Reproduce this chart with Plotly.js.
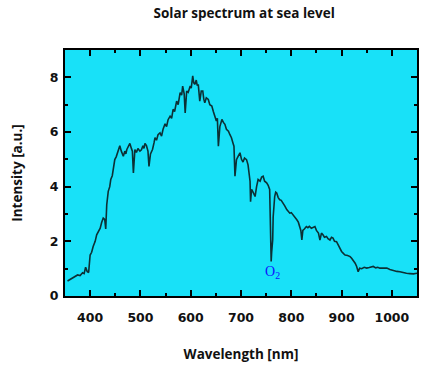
<!DOCTYPE html>
<html><head><meta charset="utf-8">
<script src="https://cdn.plot.ly/plotly-3.0.1.min.js"></script>
<style>html,body{margin:0;padding:0;background:#fff}#chart{width:440px;height:370px}</style>
</head><body><div id="chart"></div>
<script>
const wavelength = [355,360,365,370,375,380,385,388,391,394,397,400,403,406,410,413,417,420,423,426,429,431,433,436,439,441,444,446,449,452,455,457,459,462,464,466,469,471,473,476,479,482,484,486,489,492,495,499,502,505,507,509,512,515,517,520,524,527,529,532,535,539,542,545,549,552,555,559,562,565,568,572,575,579,582,584,587,589,592,595,599,601,604,606,608,611,613,615,618,621,624,626,628,631,635,638,642,645,648,651,653,655,658,662,665,668,671,675,678,681,684,686,688,690,691,694,698,701,704,707,711,714,716,718,719,721,724,728,731,734,738,741,744,747,751,754,757,759,760,761,763,764,766,767,769,771,774,777,780,784,787,791,794,797,800,804,807,811,814,816,819,821,823,826,830,833,836,840,843,847,850,854,857,860,863,866,870,873,877,880,883,886,890,893,897,900,904,907,912,917,920,923,927,930,933,936,940,945,950,955,960,963,968,972,976,982,990,996,1003,1010,1016,1022,1029,1036,1043,1050];
const intensity = [0.55,0.6,0.65,0.7,0.77,0.75,0.85,0.82,1.05,0.9,0.86,1.5,1.6,1.81,2.0,2.24,2.35,2.48,2.7,2.85,2.8,2.45,3.34,3.83,4.0,4.26,4.4,4.62,4.99,5.1,5.3,5.45,5.5,5.3,5.15,5.11,5.3,5.2,5.36,5.45,5.58,5.4,5.3,4.5,5.36,5.25,5.4,5.3,5.35,5.5,5.4,5.58,5.5,5.3,4.74,5.2,5.36,5.6,5.79,5.7,5.9,5.97,5.85,6.1,6.3,6.2,6.45,6.58,6.5,6.83,6.75,7.13,7.0,7.44,7.35,7.68,7.4,6.7,7.5,7.45,7.68,7.6,8.05,7.8,7.74,7.9,7.7,7.74,7.13,7.5,7.5,7.2,7.07,7.25,7.19,7.0,6.95,6.75,6.52,6.4,6.5,5.48,6.2,6.46,6.35,6.28,6.1,6.03,5.9,5.79,5.6,5.48,4.38,4.8,4.99,5.1,5.24,5.0,4.9,5.05,4.99,4.8,4.5,4.2,3.45,3.9,3.8,3.64,4.0,4.26,4.2,4.35,4.38,4.2,4.14,4.05,3.9,2.6,1.26,1.6,2.05,2.9,3.5,3.64,3.8,3.77,3.6,3.52,3.5,3.4,3.3,3.16,3.1,3.03,3.05,2.97,2.9,2.79,2.7,2.54,2.4,2.05,2.4,2.45,2.54,2.5,2.55,2.48,2.5,2.54,2.4,2.3,2.05,2.3,2.24,2.15,2.18,2.1,2.05,2.15,2.12,2.0,1.99,1.87,1.75,1.63,1.55,1.5,1.48,1.44,1.38,1.32,1.2,1.08,0.89,1.02,1.0,1.05,1.02,1.04,1.07,1.08,1.03,1.05,1.02,1.03,1.02,0.97,0.93,0.9,0.89,0.86,0.83,0.82,0.81,0.83];
const xTicks = [400,500,600,700,800,900,1000];
const yTicks = [0,2,4,6,8];
const titleText = 'Solar spectrum at sea level';
const xTitle = 'Wavelength [nm]';
const yTitle = 'Intensity [a.u.]';
const o2Label = {x: 762, y: 0.85, text: 'O<sub>2</sub>'};

const FONT = 'Open Sans, sans-serif';
const TICKFONT = 'DejaVu Sans, sans-serif';
const trace = {
  x: wavelength, y: intensity, type: 'scatter', mode: 'lines',
  line: {color: '#0c3035', width: 1.6}, hoverinfo: 'skip'
};
const axisCommon = {
  showline: true, linecolor: '#000', linewidth: 2, mirror: 'ticks',
  ticks: 'inside', ticklen: 6, tickwidth: 2, tickcolor: '#000',
  showgrid: false, zeroline: false,
  tickfont: {family: TICKFONT, size: 12.5, color: '#111', weight: 700}
};
const layout = {
  width: 440, height: 370,
  margin: {l: 65, r: 23, t: 50, b: 74},
  paper_bgcolor: '#fff', plot_bgcolor: '#18e1f8',
  showlegend: false,
  title: {text: titleText, x: 0.555, xanchor: 'center', y: 0.965, yanchor: 'middle',
          font: {family: FONT, size: 13.5, color: '#111', weight: 700}},
  xaxis: Object.assign({}, axisCommon, {
    range: [350, 1050], tickvals: xTicks, ticktext: xTicks.map(String),
    ticklabelstandoff: 9,
    minor: {ticks: 'inside', dtick: 50, tick0: 350, ticklen: 3, tickwidth: 2, tickcolor: '#000'},
    title: {text: xTitle, standoff: 26, font: {family: FONT, size: 13.5, color: '#111', weight: 700}}
  }),
  yaxis: Object.assign({}, axisCommon, {
    range: [0, 9], tickvals: yTicks, ticktext: yTicks.map(String),
    ticklabelstandoff: 2,
    minor: {ticks: 'inside', dtick: 1, tick0: 0, ticklen: 3, tickwidth: 2, tickcolor: '#000'},
    title: {text: yTitle, standoff: 24, font: {family: FONT, size: 13.5, color: '#111', weight: 700}}
  }),
  annotations: [{x: o2Label.x, y: o2Label.y, xref: 'x', yref: 'y', text: o2Label.text,
    showarrow: false, xanchor: 'center', yanchor: 'middle',
    font: {family: 'Liberation Serif, serif', size: 14, color: '#1010ff'}}]
};
Plotly.newPlot('chart', [trace], layout, {staticPlot: true, displayModeBar: false});
</script></body></html>
